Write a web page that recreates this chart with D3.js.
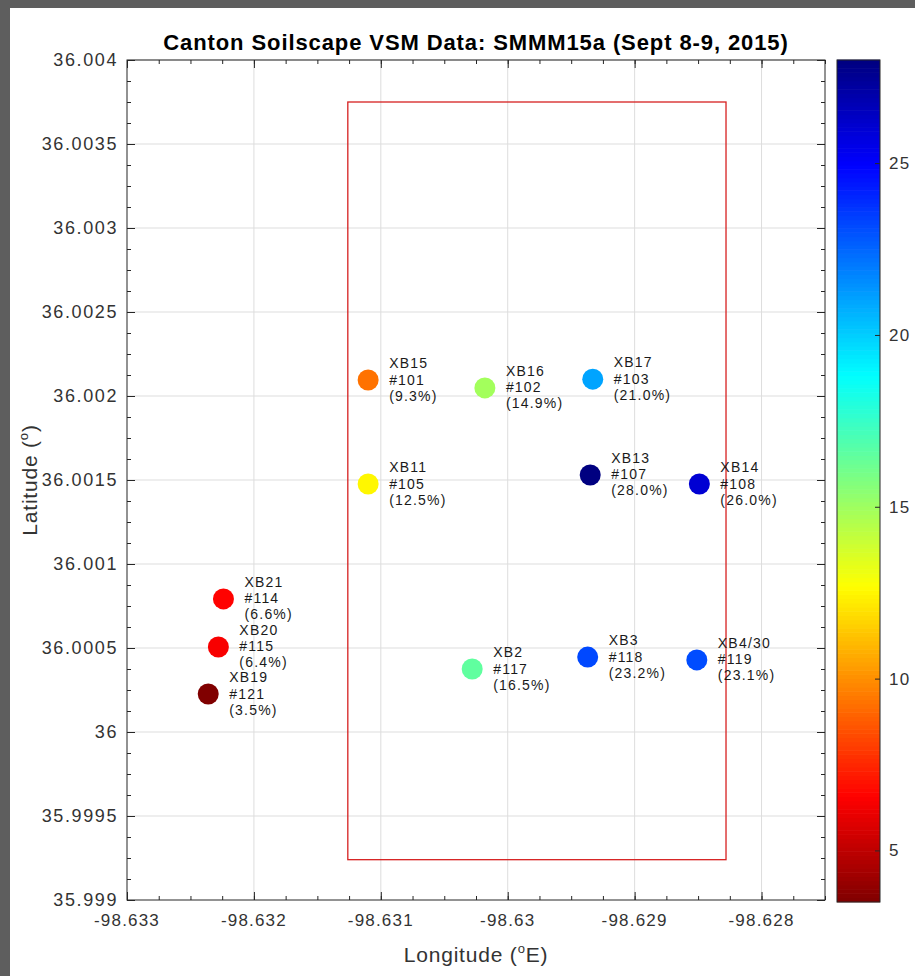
<!DOCTYPE html>
<html>
<head>
<meta charset="utf-8">
<script src="https://cdn.jsdelivr.net/npm/d3@7"></script>
<style>
  html, body { margin: 0; padding: 0; background: #5e5e5e; }
  svg { display: block; font-family: "Liberation Sans", Arial, sans-serif; }
</style>
</head>
<body>
<div id="chart"></div>
<script>
// Sensor data
const sites = ["XB15", "XB16", "XB17", "XB11", "XB13", "XB14", "XB21", "XB20", "XB19", "XB2", "XB3", "XB4/30"];
const ids   = ["#101", "#102", "#103", "#105", "#107", "#108", "#114", "#115", "#121", "#117", "#118", "#119"];
const vsm   = [9.3, 14.9, 21.0, 12.5, 28.0, 26.0, 6.6, 6.4, 3.5, 16.5, 23.2, 23.1];
const lon   = [-98.63110, -98.63018, -98.62933, -98.63110, -98.62935, -98.62849,
               -98.63224, -98.63228, -98.63236, -98.63028, -98.62937, -98.62851];
const lat   = [36.002095, 36.002048, 36.002100, 36.001476, 36.001530, 36.001476,
               36.000792, 36.000506, 36.000226, 36.000375, 36.000446, 36.000429];

// study area box (lon/lat corners)
const boxLon = [-98.63126, -98.62828];
const boxLat = [35.99924, 36.00375];

const xTicks = [-98.633, -98.632, -98.631, -98.630, -98.629, -98.628];
const xTickLabels = ["-98.633", "-98.632", "-98.631", "-98.63", "-98.629", "-98.628"];
const yTicks = [35.999, 35.9995, 36.0, 36.0005, 36.001, 36.0015, 36.002, 36.0025, 36.003, 36.0035, 36.004];
const yTickLabels = ["35.999", "35.9995", "36", "36.0005", "36.001", "36.0015", "36.002", "36.0025", "36.003", "36.0035", "36.004"];
const cTicks = [5, 10, 15, 20, 25];
const cRange = [3.5, 28.0];

const W = 915, H = 976;
const svg = d3.select("#chart").append("svg").attr("width", W).attr("height", H);

// white figure area
svg.append("rect").attr("x", 10).attr("y", 8).attr("width", W - 10).attr("height", H - 8).attr("fill", "#ffffff");

const x = d3.scaleLinear().domain([-98.633, -98.6275]).range([127, 825]);
const y = d3.scaleLinear().domain([35.999, 36.004]).range([900, 60]);

// flipped jet colormap
function jet(t) {
  const c = v => Math.max(0, Math.min(1, v));
  const r = c(1.5 - Math.abs(4 * t - 3));
  const g = c(1.5 - Math.abs(4 * t - 2));
  const b = c(1.5 - Math.abs(4 * t - 1));
  return d3.rgb(r * 255, g * 255, b * 255).toString();
}
const color = d3.scaleSequential(t => jet(1 - t)).domain(cRange);

const axisColor = "#262626";
const labelColor = "#333333";

// grid
const grid = svg.append("g").attr("stroke", "#dddddd").attr("stroke-width", 1);
grid.selectAll(".gx").data(xTicks.slice(1)).enter().append("line")
  .attr("x1", d => x(d)).attr("x2", d => x(d)).attr("y1", y.range()[0]).attr("y2", y.range()[1]);
grid.selectAll(".gy").data(yTicks.slice(1)).enter().append("line")
  .attr("y1", d => y(d)).attr("y2", d => y(d)).attr("x1", x.range()[0]).attr("x2", x.range()[1]);

// minor ticks
const xMinor = d3.range(0, 23).map(i => -98.633 + i * 0.00025).filter(d => d <= -98.6275);
const yMinor = d3.range(0, 41).map(i => 35.999 + i * 0.000125);

function addAxis(axisFn, scale, ticks, size, transform) {
  const g = svg.append("g").attr("transform", transform)
    .call(axisFn(scale).tickValues(ticks).tickSize(size).tickFormat(""));
  g.select(".domain").remove();
  g.selectAll(".tick line").attr("stroke", axisColor);
}
const x0 = x.range()[0], x1 = x.range()[1], y0 = y.range()[0], y1 = y.range()[1];
addAxis(d3.axisBottom, x, xMinor, -4, `translate(0,${y0})`);
addAxis(d3.axisTop, x, xMinor, -4, `translate(0,${y1})`);
addAxis(d3.axisLeft, y, yMinor, -4, `translate(${x0},0)`);
addAxis(d3.axisRight, y, yMinor, -4, `translate(${x1},0)`);
addAxis(d3.axisBottom, x, xTicks, -8, `translate(0,${y0})`);
addAxis(d3.axisTop, x, xTicks, -8, `translate(0,${y1})`);
addAxis(d3.axisLeft, y, yTicks, -8, `translate(${x0},0)`);
addAxis(d3.axisRight, y, yTicks, -8, `translate(${x1},0)`);

// box
svg.append("rect").attr("x", x0).attr("y", y1).attr("width", x1 - x0).attr("height", y0 - y1)
  .attr("fill", "none").attr("stroke", axisColor).attr("stroke-width", 1);

// tick labels
svg.append("g").selectAll("text").data(xTicks).enter().append("text")
  .attr("x", d => x(d)).attr("y", y0 + 26)
  .attr("text-anchor", "middle").attr("font-size", 17).attr("letter-spacing", 1.2)
  .attr("fill", labelColor).text((d, i) => xTickLabels[i]);
svg.append("g").selectAll("text").data(yTicks).enter().append("text")
  .attr("x", x0 - 9).attr("y", d => y(d) + 6)
  .attr("text-anchor", "end").attr("font-size", 18).attr("letter-spacing", 1.6)
  .attr("fill", labelColor).text((d, i) => yTickLabels[i]);

// study box
svg.append("rect")
  .attr("x", x(boxLon[0])).attr("y", y(boxLat[1]))
  .attr("width", x(boxLon[1]) - x(boxLon[0])).attr("height", y(boxLat[0]) - y(boxLat[1]))
  .attr("fill", "none").attr("stroke", "#d62020").attr("stroke-width", 1.3);

// points
const pts = svg.append("g");
pts.selectAll("circle").data(vsm).enter().append("circle")
  .attr("cx", (d, i) => x(lon[i])).attr("cy", (d, i) => y(lat[i]))
  .attr("r", 10.5).attr("fill", d => color(d));

const labels = pts.selectAll("text").data(vsm).enter().append("text")
  .attr("font-size", 14).attr("letter-spacing", 1.2).attr("fill", "#1a1a1a")
  .attr("transform", (d, i) => `translate(${x(lon[i]) + 21},${y(lat[i])})`);
labels.append("tspan").attr("x", 0).attr("y", -12).text((d, i) => sites[i]);
labels.append("tspan").attr("x", 0).attr("y", 4.5).text((d, i) => ids[i]);
labels.append("tspan").attr("x", 0).attr("y", 20.5).text(d => `(${d.toFixed(1)}%)`);

// title
svg.append("text").attr("x", (x0 + x1) / 2).attr("y", 50)
  .attr("text-anchor", "middle").attr("font-size", 22).attr("font-weight", "bold")
  .attr("letter-spacing", 0.9)
  .attr("fill", "#000").text("Canton Soilscape VSM Data: SMMM15a (Sept 8-9, 2015)");

// axis titles
const xl = svg.append("text").attr("x", (x0 + x1) / 2).attr("y", 962)
  .attr("text-anchor", "middle").attr("font-size", 21).attr("letter-spacing", 0.8).attr("fill", labelColor);
xl.append("tspan").text("Longitude (");
xl.append("tspan").attr("font-size", 13).attr("dy", -9).text("o");
xl.append("tspan").attr("dy", 9).text("E)");

const yl = svg.append("text").attr("transform", `translate(37,${(y0 + y1) / 2}) rotate(-90)`)
  .attr("text-anchor", "middle").attr("font-size", 21).attr("letter-spacing", 0.8).attr("fill", labelColor);
yl.append("tspan").text("Latitude (");
yl.append("tspan").attr("font-size", 13).attr("dy", -9).text("o");
yl.append("tspan").attr("dy", 9).text(")");

// colorbar
const cb = { x: 837, w: 43 };
const cy = d3.scaleLinear().domain(cRange).range([902, 60]);
const steps = d3.range(0, 200).map(i => cRange[0] + (i + 0.5) * (cRange[1] - cRange[0]) / 200);
const stepH = (cy(cRange[0]) - cy(cRange[1])) / 200;
svg.append("g").selectAll("rect").data(steps).enter().append("rect")
  .attr("x", cb.x).attr("width", cb.w)
  .attr("y", d => cy(d) - stepH / 2 - 0.3).attr("height", stepH + 0.6)
  .attr("fill", d => color(d));
svg.append("rect").attr("x", cb.x).attr("y", cy(cRange[1])).attr("width", cb.w)
  .attr("height", cy(cRange[0]) - cy(cRange[1])).attr("fill", "none").attr("stroke", axisColor);
const cAxis = svg.append("g").attr("transform", `translate(${cb.x + cb.w},0)`)
  .call(d3.axisRight(cy).tickValues(cTicks).tickSize(-5).tickFormat(""));
cAxis.select(".domain").remove();
cAxis.selectAll(".tick line").attr("stroke", axisColor);
svg.append("g").selectAll("text").data(cTicks).enter().append("text")
  .attr("x", cb.x + cb.w + 9).attr("y", d => cy(d) + 6)
  .attr("font-size", 17).attr("letter-spacing", 1.2).attr("fill", labelColor).text(d => d);
</script>
</body>
</html>
